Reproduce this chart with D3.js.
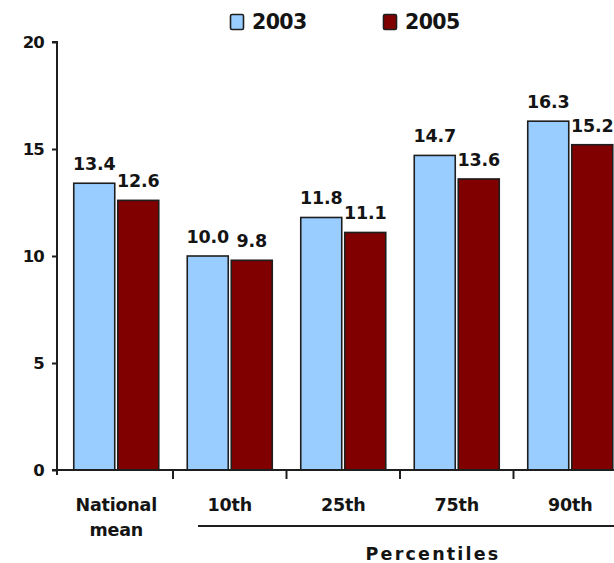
<!DOCTYPE html>
<html>
<head>
<meta charset="utf-8">
<script src="https://cdn.jsdelivr.net/npm/d3@7"></script>
<style>
  html, body { margin: 0; padding: 0; background: #fff; }
  svg { display: block; }
  text { font-family: "DejaVu Sans", Verdana, sans-serif; font-weight: bold; fill: #141414; }
</style>
</head>
<body>
<svg id="chart" width="614" height="563"></svg>
<script>
// Categories along the x axis
const categories = ["National mean", "10th", "25th", "75th", "90th"];
// Series (years) and their values
const years = ["2003", "2005"];
const values2003 = [13.4, 10.0, 11.8, 14.7, 16.3];
const values2005 = [12.6, 9.8, 11.1, 13.6, 15.2];
// Y axis ticks
const yTicks = [0, 5, 10, 15, 20];
const groupLabel = "Percentiles";

const colors = { "2003": "#99ccff", "2005": "#800000" };
const seriesValues = { "2003": values2003, "2005": values2005 };

const svg = d3.select("#chart");

const y = d3.scaleLinear().domain([0, 20]).range([470, 42]);
const x0 = d3.scaleBand().domain(categories).range([59.5, 627]).paddingInner(0).paddingOuter(0);
const x1 = d3.scaleBand().domain(years).range([14.25, x0.bandwidth() - 14.25]).paddingInner(3 / 44).paddingOuter(0);

// Bars
const groups = svg.append("g").selectAll("g")
  .data(categories)
  .join("g")
  .attr("transform", d => `translate(${x0(d)},0)`);

const rows = categories.map((c, i) => years.map(yr => ({ cat: c, year: yr, value: seriesValues[yr][i] })));

groups.selectAll("rect")
  .data((d, i) => rows[i])
  .join("rect")
  .attr("x", d => x1(d.year))
  .attr("y", d => y(d.value))
  .attr("width", x1.bandwidth())
  .attr("height", d => y(0) - y(d.value))
  .attr("fill", d => colors[d.year])
  .attr("stroke", "#1e1e1e")
  .attr("stroke-width", 1.6);

// Value labels
groups.selectAll("text.val")
  .data((d, i) => rows[i])
  .join("text")
  .attr("class", "val")
  .attr("x", d => x1(d.year) + x1.bandwidth() / 2)
  .attr("y", d => y(d.value) - 13)
  .attr("text-anchor", "middle")
  .attr("font-size", 17.5)
  .attr("letter-spacing", -0.2)
  .text(d => d.value.toFixed(1));

// Y axis
const yAxis = d3.axisLeft(y).tickValues(yTicks).tickSize(5).tickPadding(8).tickFormat(d3.format("d"));
const gy = svg.append("g").attr("transform", "translate(57,0)").call(yAxis);
gy.select(".domain").attr("d", `M-5,${y(20)}H0V${y(0)}`).attr("stroke", "#1e1e1e").attr("stroke-width", 2);
gy.selectAll(".tick line").attr("stroke", "#1e1e1e").attr("stroke-width", 2);
gy.selectAll(".tick text")
  .attr("font-size", 16.5)
  .attr("letter-spacing", -0.8)
  .attr("fill", "#141414")
  .style("font-family", "'DejaVu Sans', sans-serif")
  .style("font-weight", "bold");

// X axis baseline and tick marks between categories
const gx = svg.append("g");
gx.append("line")
  .attr("x1", 52).attr("x2", 614)
  .attr("y1", y(0)).attr("y2", y(0))
  .attr("stroke", "#1e1e1e").attr("stroke-width", 2);
const boundaries = [59.5 - 2.5].concat(categories.slice(1).map(c => x0(c)));
gx.selectAll("line.tick")
  .data(boundaries)
  .join("line")
  .attr("class", "tick")
  .attr("x1", d => d).attr("x2", d => d)
  .attr("y1", y(0)).attr("y2", (d, i) => i === 0 ? y(0) + 5 : y(0) + 9)
  .attr("stroke", "#1e1e1e").attr("stroke-width", 2);

// Category labels
const catLabels = svg.append("g").selectAll("text")
  .data(categories)
  .join("text")
  .attr("text-anchor", "middle")
  .attr("font-size", 17.5)
  .attr("letter-spacing", -0.2)
  .attr("x", d => x0(d) + x0.bandwidth() / 2);
catLabels.each(function (d) {
  const t = d3.select(this);
  const parts = d.split(" ");
  parts.forEach((p, i) => {
    t.append("tspan")
      .attr("x", x0(d) + x0.bandwidth() / 2)
      .attr("y", 511 + i * 25)
      .text(p);
  });
});

// Percentile group bracket and label
const pStart = x0("10th") + 25;
svg.append("line")
  .attr("x1", pStart).attr("x2", 614)
  .attr("y1", 526).attr("y2", 526)
  .attr("stroke", "#1e1e1e").attr("stroke-width", 2);
svg.append("text")
  .attr("x", 433).attr("y", 560)
  .attr("text-anchor", "middle")
  .attr("font-size", 17.5)
  .attr("letter-spacing", 2.2)
  .text(groupLabel);

// Legend
const legendX = { "2003": 230, "2005": 383 };
const legend = svg.append("g").selectAll("g")
  .data(years)
  .join("g")
  .attr("transform", d => `translate(${legendX[d]},14)`);
legend.append("rect")
  .attr("x", 0.5).attr("y", 0.5)
  .attr("width", 13).attr("height", 15)
  .attr("rx", 1.5)
  .attr("fill", d => colors[d])
  .attr("stroke", "#1e1e1e").attr("stroke-width", 1.6);
legend.append("text")
  .attr("x", 22).attr("y", 15)
  .attr("font-size", 20.5)
  .attr("letter-spacing", -0.6)
  .text(d => d);
</script>
</body>
</html>
